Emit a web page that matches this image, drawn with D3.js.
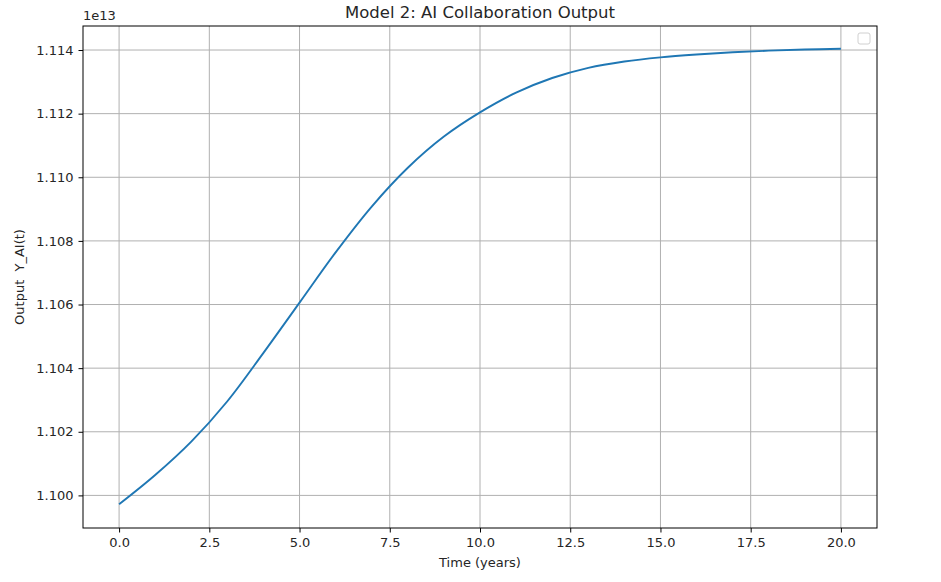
<!DOCTYPE html>
<html>
<head>
<meta charset="utf-8">
<script src="https://cdn.jsdelivr.net/npm/d3@7"></script>
<style>
  body { margin: 0; background: #fff; }
  text { font-family: 'DejaVu Sans', sans-serif; fill: #262626; }
</style>
</head>
<body>
<div id="chart"></div>
<script>
// values
const years = [0, 1, 2, 3, 4, 5, 6, 7, 8, 9, 10, 11, 12, 13, 14, 15, 16, 17, 18, 19, 20]
const outputAI = [
  1.09972e13, 1.10064e13, 1.10169e13, 1.10296e13, 1.10448e13, 1.10606e13, 1.10764e13,
  1.10908e13, 1.11030e13, 1.11128e13, 1.11204e13, 1.11266e13, 1.11312e13, 1.11344e13,
  1.11364e13, 1.11377e13, 1.11386e13, 1.11393e13, 1.11398e13, 1.114015e13, 1.11404e13
]
const xTicks = [0, 2.5, 5, 7.5, 10, 12.5, 15, 17.5, 20]
const yTicks = [1.100, 1.102, 1.104, 1.106, 1.108, 1.110, 1.112, 1.114]

const W = 941, H = 582
const margin = { top: 26, right: 64, bottom: 54, left: 83 }
const width = W - margin.left - margin.right
const height = H - margin.top - margin.bottom

const svg = d3.select('#chart')
  .append('svg')
  .attr('width', W)
  .attr('height', H)

const g = svg.append('g')
  .attr('transform', 'translate(' + margin.left + ',' + margin.top + ')')

const x = d3.scaleLinear()
  .domain([-1.0, 21.0])
  .range([0, width])

// y in units of 1e13
const y = d3.scaleLinear()
  .domain([1.098975, 1.114755])
  .range([height, 0])

// grid
g.append('g')
  .selectAll('line')
  .data(xTicks)
  .join('line')
  .attr('x1', d => x(d)).attr('x2', d => x(d))
  .attr('y1', 0).attr('y2', height)
  .attr('stroke', '#b0b0b0').attr('stroke-width', 1)

g.append('g')
  .selectAll('line')
  .data(yTicks)
  .join('line')
  .attr('y1', d => y(d)).attr('y2', d => y(d))
  .attr('x1', 0).attr('x2', width)
  .attr('stroke', '#b0b0b0').attr('stroke-width', 1)

// line
g.append('path')
  .datum(years.map((t, i) => ({ t: t, v: outputAI[i] / 1e13 })))
  .attr('fill', 'none')
  .attr('stroke', '#1f77b4')
  .attr('stroke-width', 1.9)
  .attr('d', d3.line()
    .x(d => x(d.t))
    .y(d => y(d.v))
    .curve(d3.curveCatmullRom))

// axes
const xAxis = g.append('g')
  .attr('transform', 'translate(0,' + height + ')')
  .call(d3.axisBottom(x).tickValues(xTicks).tickFormat(d3.format('.1f')).tickSize(4.5).tickPadding(5))
const yAxis = g.append('g')
  .call(d3.axisLeft(y).tickValues(yTicks).tickFormat(d3.format('.3f')).tickSize(4.5).tickPadding(5))

;[xAxis, yAxis].forEach(a => {
  a.select('.domain').remove()
  a.selectAll('line').attr('stroke', '#000').attr('stroke-width', 1)
  a.selectAll('text').style('font-size', '13px').style('font-family', "'DejaVu Sans', sans-serif").attr('fill', '#262626')
})

// frame
g.append('rect')
  .attr('width', width).attr('height', height)
  .attr('fill', 'none').attr('stroke', '#000').attr('stroke-width', 1)

// offset text
g.append('text')
  .attr('x', 0).attr('y', -6)
  .style('font-size', '13px')
  .text('1e13')

// title
svg.append('text')
  .attr('x', margin.left + width / 2).attr('y', margin.top - 8)
  .attr('text-anchor', 'middle')
  .style('font-size', '16.5px')
  .text('Model 2: AI Collaboration Output')

// axis labels
svg.append('text')
  .attr('x', margin.left + width / 2).attr('y', H - 15)
  .attr('text-anchor', 'middle')
  .style('font-size', '13px')
  .text('Time (years)')

svg.append('text')
  .attr('transform', 'translate(24,' + (margin.top + height / 2) + ') rotate(-90)')
  .attr('text-anchor', 'middle')
  .style('font-size', '13px')
  .style('white-space', 'pre')
  .text('Output  Y_AI(t)')

// empty legend box
g.append('rect')
  .attr('x', width - 19).attr('y', 7)
  .attr('width', 12).attr('height', 11)
  .attr('rx', 2)
  .attr('fill', '#fff').attr('stroke', '#d0d0d0').attr('stroke-width', 1)
</script>
</body>
</html>
